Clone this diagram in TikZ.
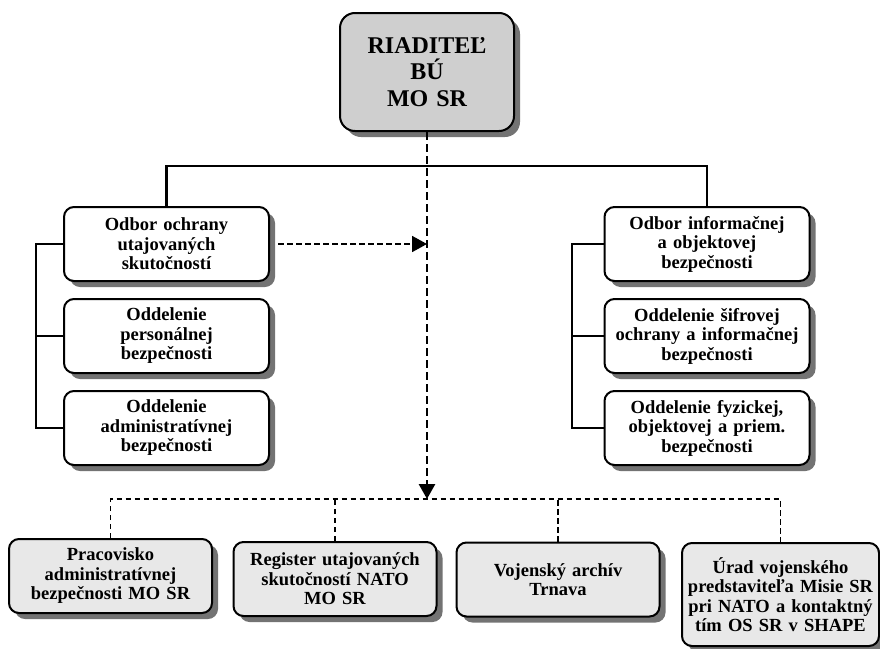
\documentclass[tikz,border=0pt]{standalone}
\usepackage{fontspec}
\setmainfont{Liberation Serif}
\usetikzlibrary{arrows.meta, shadows, positioning}

\tikzset{
  unit/.style={draw, line width=2pt, rounded corners=10pt, fill=white,
    align=center, text width=195pt, inner xsep=5pt, minimum height=74pt,
    font=\fontsize{18.5}{19.5}\selectfont\bfseries,
    drop shadow={shadow xshift=6pt, shadow yshift=-6pt, fill=black!55, opacity=1}},
  head/.style={unit, fill=black!19, text width=164pt, minimum height=118pt,
    rounded corners=15pt, font=\fontsize{24}{26.5}\selectfont\bfseries},
  office/.style={unit, fill=black!9, text width=193pt},
  link/.style={line width=2.2pt},
  dlink/.style={line width=1.8pt, dash pattern=on 5.5pt off 3.5pt},
  mainlink/.style={line width=2.8pt, dash pattern=on 8pt off 4pt},
  tip/.style={-{Triangle[length=15pt,width=16pt]}}
}

\begin{document}
\begin{tikzpicture}[x=1pt,y=-1pt,node distance=92pt]
    \useasboundingbox (0,0) rectangle (880,648);
    % director
    \node[head] (riad) at (427,72) {RIADITEĽ\\BÚ\\MO SR};
    % left column
    \node[unit] (outs) at (166.5,244) {Odbor ochrany\\utajovaných\\skutočností};
    \node[unit] (opb) [below of = outs] {Oddelenie\\personálnej\\bezpečnosti};
    \node[unit] (oab) [below of = opb] {Oddelenie\\administratívnej\\bezpečnosti};
    % right column
    \node[unit] (oiob) at (707,244) {Odbor informačnej\\a objektovej\\bezpečnosti};
    \node[unit] (osoib) [below of = oiob] {Oddelenie šifrovej\\ochrany a informačnej\\bezpečnosti};
    \node[unit] (ofob) [below of = osoib] {Oddelenie fyzickej,\\objektovej a priem.\\bezpečnosti};
    % bottom row
    \node[office] (pab) at (110.5,576) {Pracovisko\\administratívnej\\bezpečnosti MO SR};
    \node[office] (ruts) at (335,579) {Register utajovaných\\skutočností NATO\\MO SR};
    \node[office] (vat) at (558,579.5) {Vojenský archív\\Trnava};
    \node[office, text width=187pt, minimum height=103pt] (uvp) at (780.5,594.5)
        {Úrad vojenského\\predstaviteľa Misie SR\\pri NATO a kontaktný\\tím OS SR v SHAPE};
    \coordinate (bbus) at (0,499);

    \draw[link] (outs.north) -- ++(0,-40) -| (oiob.north);
    \draw[link] (outs.west) -- (outs.west -| 36,0) |- (oab.west);
    \draw[link] (opb.west) -- (opb.west -| 36,0);
    \draw[link] (oiob.west) -- (oiob.west -| 572,0) |- (ofob.west);
    \draw[link] (osoib.west) -- (osoib.west -| 572,0);

    \draw[dlink] (pab.north) |- (bbus -| uvp.north) -- (uvp.north);
    \draw[dlink] (ruts.north) -- (ruts.north |- bbus);
    \draw[dlink] (vat.north) -- (vat.north |- bbus);
    \draw[dlink, tip] ([xshift=8pt]outs.east) -- (outs.east -| riad.south);
    \draw[mainlink, tip] (riad.south) -- (riad.south |- bbus);
\end{tikzpicture}
\end{document}
